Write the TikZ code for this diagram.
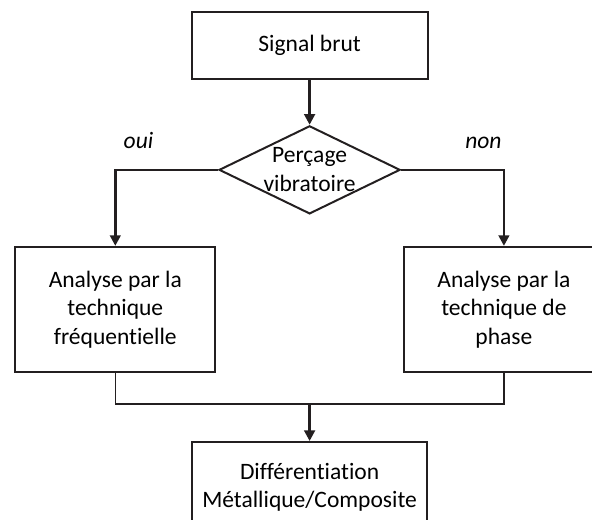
\documentclass[tikz,border=0pt]{standalone}
\usepackage{fontspec}
\setmainfont{Carlito}[Ligatures=NoCommon]
\usetikzlibrary{positioning,shapes.geometric,arrows.meta,calc}
\definecolor{trait}{RGB}{35,31,32}

\begin{document}
\begin{tikzpicture}[node distance=8.2mm, every node/.style={font=\fontsize{17.7}{21.6}\selectfont, align=center},
  boite/.style={draw=trait, line width=1.5pt, minimum width=52.9mm, minimum height=33.1mm},
  losange/.style={draw=trait, line width=1.5pt, diamond, inner sep=0pt, minimum width=47.9mm, minimum height=23.3mm},
  fleche/.style={draw=trait, line width=1.9pt, -{Triangle[length=2.8mm,width=2.8mm]}},
  lien/.style={draw=trait, line width=1pt},
  choix/.style={inner sep=0pt, font=\fontsize{17.7}{21.6}\selectfont\itshape}]
\useasboundingbox (0,0) rectangle (156.6mm,-137.3mm);
\clip (0,0) rectangle (156.6mm,-137.3mm);
\node[boite, minimum width=62.4mm, minimum height=17.7mm] (brut) at (81.9mm,-12.0mm) {Signal brut};
\node[losange, below=11.9mm of brut, label={[align=center]center:Perçage\\vibratoire}] (percage) {};
\node[boite, below=of percage, xshift=-51.4mm] (gauche) {Analyse par la\\technique\\fréquentielle};
\node[boite, below=of percage, xshift=51.4mm] (droite) {Analyse par la\\technique de\\phase};
\coordinate (jonction) at ($(gauche.south -| percage)+(0,-8.2mm)$);
\node[boite, minimum width=62.2mm, minimum height=24mm, below=9.8mm of jonction] (bas) {Différentiation\\Métallique/Composite};
% liaisons
\draw[fleche] (brut) -- (percage);
\draw[fleche] (percage.west) -| node[choix, pos=0.5, above right=5.3mm and 1.9mm] {oui} (gauche);
\draw[fleche] (percage.east) -| node[choix, pos=0.5, above left=5.3mm and 0.3mm] {non} (droite);
\draw[lien] (gauche.south) |- (jonction) -| (droite.south);
\draw[fleche] (jonction) -- (bas);
\end{tikzpicture}
\end{document}
